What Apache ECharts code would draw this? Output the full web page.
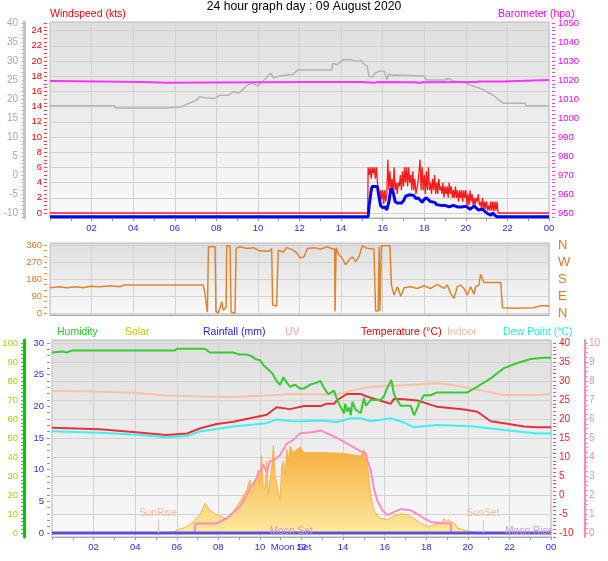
<!DOCTYPE html>
<html><head><meta charset="utf-8">
<script src="https://cdn.jsdelivr.net/npm/echarts@6/dist/echarts.min.js"></script>
<style>html,body{margin:0;padding:0;background:#fff}#c{width:608px;height:561px}</style>
</head><body><div id="c"></div>
<script>
// ---------- DATA (time in hours, 0..24) ----------
const hourTicks = [0,2,4,6,8,10,12,14,16,18,20,22,24];
// top panel: grey line on -10..40 scale
const greyLine = [[0,18.2],[3.1,18.2],[3.15,17.6],[5.6,17.6],[5.65,17.9],[6.3,17.9],[6.57,18.6],[7.05,19.7],[7.2,20.6],[7.45,20.3],[7.9,20.1],[8.18,21.0],[8.6,21.0],[8.8,21.9],[9.1,21.6],[9.25,22.4],[9.5,23.7],[9.75,24.2],[10.0,23.4],[10.3,25.0],[10.45,25.8],[10.6,26.8],[10.75,25.6],[11.06,26.05],[11.4,26.3],[11.7,26.5],[11.9,27.6],[13.55,27.6],[13.6,29.4],[13.8,29.0],[14.1,30.3],[14.45,30.4],[14.75,29.9],[14.95,30.2],[15.1,29.2],[15.25,28.7],[15.35,25.9],[15.5,25.8],[15.65,26.9],[15.9,27.4],[16.1,27.2],[16.2,25.0],[16.3,26.6],[16.45,26.2],[16.6,26.3],[18.0,26.05],[18.1,25.0],[19.0,25.0],[19.15,25.4],[19.35,24.8],[19.9,24.5],[20.2,23.7],[20.7,22.8],[21.3,21.05],[21.8,18.9],[22.85,18.9],[22.9,18.2],[24,18.2]];
const barometer = [[0,1019.5],[0.35,1019.5],[0.4,1019.0],[4.45,1019.0],[4.5,1018.5],[5.6,1018.5],[5.65,1019.1],[12.2,1019.0],[15.0,1018.9],[15.6,1018.6],[15.8,1018.9],[17.6,1018.8],[17.75,1018.4],[17.9,1018.8],[20.5,1018.9],[20.6,1019.2],[21.75,1019.2],[21.8,1020.0],[24,1020.0]];
const windGust = [[0,0],[15.28,0],[15.3,6],[15.35,5],[15.4,6],[15.45,4.5],[15.5,6],[15.55,5.2],[15.6,6],[15.65,4.5],[15.7,6],[15.75,4],[15.8,2.5],[15.85,1.5],[15.9,3],[15.95,1.8],[16.0,3],[16.05,1.2],[16.1,3],[16.15,1.5],[16.2,2.5],[16.25,7],[16.3,3],[16.35,5.5],[16.4,3],[16.45,4.5],[16.5,2.5],[16.55,6],[16.6,3],[16.65,4],[16.7,2.5],[16.75,4],[16.8,3.5],[16.85,5],[16.9,3],[16.95,5.5],[17.0,3.5],[17.05,6],[17.1,4],[17.15,6],[17.2,3.5],[17.25,6],[17.3,4],[17.35,5],[17.4,3],[17.45,5.5],[17.5,3],[17.55,4.5],[17.6,2.5],[17.7,4],[17.8,7],[17.85,3],[17.9,6],[17.95,3],[18.0,5],[18.05,2.5],[18.1,5.5],[18.15,3],[18.2,6],[18.25,3],[18.3,4],[18.35,2.5],[18.4,4.5],[18.45,3],[18.5,5],[18.55,2.5],[18.6,4],[18.65,2.5],[18.7,4.5],[18.75,3],[18.8,3.5],[18.85,2.5],[18.9,4],[18.95,2],[19.0,3.5],[19.05,2.5],[19.1,3.5],[19.15,2],[19.2,4],[19.25,2.5],[19.3,3.5],[19.35,2],[19.4,3],[19.45,2],[19.5,3.5],[19.55,2],[19.6,3],[19.65,1.5],[19.7,3],[19.75,2],[19.8,3],[19.85,1.5],[19.9,3],[19.95,2],[20.0,3],[20.05,1],[20.1,2.5],[20.15,1],[20.2,3],[20.25,1.5],[20.3,2.5],[20.35,1],[20.4,2],[20.45,1],[20.5,2],[20.55,1.5],[20.6,2.5],[20.65,1],[20.7,1.5],[20.75,0.5],[20.8,2],[20.85,0.5],[20.9,1.5],[20.95,0.5],[21.0,1.5],[21.05,0.3],[21.1,1],[21.15,0.3],[21.2,1.5],[21.25,0.3],[21.3,1.5],[21.35,0.2],[21.4,1.5],[21.45,0.3],[21.5,1.5],[21.55,0],[24,0]];
const windAvg = [[0,-0.5],[15.3,-0.5],[15.35,1],[15.45,3],[15.5,3.5],[15.75,3.5],[15.8,2.5],[15.9,1],[16.0,0.7],[16.1,0.8],[16.2,0.4],[16.3,1.5],[16.4,3.2],[16.5,2.8],[16.6,1.5],[16.7,1.3],[16.9,1.3],[17.0,1.6],[17.1,2.2],[17.3,2.4],[17.5,2.3],[17.6,1.9],[17.7,2.0],[17.8,1.7],[17.9,1.4],[18.0,1.8],[18.1,2.0],[18.3,1.5],[18.5,1.4],[18.6,1.1],[18.8,1.0],[19.0,1.0],[19.2,0.8],[19.4,1.0],[19.6,0.8],[19.8,0.8],[20.0,0.9],[20.2,0.5],[20.4,0.9],[20.6,0.4],[20.8,0.5],[21.0,0.0],[21.2,-0.3],[21.3,0.0],[21.4,-0.3],[21.5,-0.5],[24,-0.5]];
// middle panel: wind direction (degrees)
const windDir = [[0,134],[0.48,139],[0.8,134],[1.28,139],[1.6,134],[1.92,142],[2.4,139],[2.89,144],[3.37,139],[3.53,148],[7.37,148],[7.45,104],[7.57,4],[7.62,351],[7.94,351],[7.98,8],[8.1,0],[8.26,60],[8.34,14],[8.47,32],[8.5,356],[8.66,356],[8.71,4],[8.9,0],[8.95,342],[9.14,351],[9.46,342],[9.78,346],[10.1,328],[10.58,328],[10.66,342],[10.71,42],[10.9,37],[10.98,333],[11.22,323],[11.38,346],[11.62,337],[11.86,320],[12.02,292],[12.22,298],[12.38,342],[12.7,346],[13.02,339],[13.34,351],[13.58,339],[13.69,339],[13.71,8],[13.76,346],[13.9,307],[14.06,290],[14.22,255],[14.38,281],[14.54,298],[14.7,272],[14.86,298],[15.02,356],[15.18,346],[15.34,342],[15.58,339],[15.66,11],[15.78,11],[15.83,351],[15.87,11],[15.94,356],[16.35,356],[16.42,148],[16.55,95],[16.71,139],[16.87,89],[17.03,134],[17.35,139],[17.67,130],[17.99,144],[18.31,130],[18.63,151],[18.95,130],[19.11,148],[19.27,104],[19.43,77],[19.59,139],[19.75,148],[19.91,130],[20.07,95],[20.23,139],[20.39,99],[20.47,139],[20.63,148],[20.71,205],[20.87,162],[21.68,162],[21.76,28],[22.48,25],[23.28,28],[23.6,39],[23.93,39],[24,33]];
// bottom panel
const humidity = [[0,95],[0.5,95.5],[0.7,95],[0.95,96],[5.9,96],[6.0,97],[7.35,97],[7.6,95],[8.7,95],[9.0,94],[9.36,94],[9.6,93],[9.8,91.5],[10.0,91],[10.2,88],[10.4,86],[10.6,84],[10.8,80],[10.97,78],[11.13,82],[11.3,79],[11.45,77],[11.7,78],[11.93,76],[12.12,76],[12.4,78],[12.7,79],[12.92,80],[13.0,78],[13.1,76],[13.3,73],[13.56,75],[13.72,70],[13.9,66],[14.04,63],[14.1,68],[14.2,64],[14.3,66],[14.37,62],[14.45,69],[14.53,70],[14.6,65],[14.69,64],[14.85,63],[15.0,71],[15.1,67],[15.17,66],[15.33,70],[15.5,70],[15.8,70],[15.97,72],[16.15,77],[16.32,80.5],[16.45,73],[16.6,70],[16.77,67],[17.0,67],[17.25,67],[17.41,62],[17.5,64],[17.65,68],[17.89,72.5],[18.21,72.5],[18.53,74],[19.98,74],[20.46,77],[21.1,81.4],[21.74,86.8],[22.38,89.5],[23.02,91.6],[23.66,92.3],[24,92.3]];
const indoorTemp = [[0,27.4],[1.5,27.3],[3.9,26.9],[5.5,26.2],[7.1,25.9],[8.7,25.8],[10.3,26.2],[11.45,26.6],[12.12,26.5],[13.72,26.5],[14.53,27.6],[15.33,28.5],[16.93,28.9],[18.53,29.4],[19.34,28.9],[20.14,28.1],[20.94,27.2],[21.74,26.3],[23.34,26.3],[24,26.6]];
const temperature = [[0,17.7],[2.3,17.3],[3.9,16.6],[5.5,15.8],[6.5,16.2],[7.1,17.5],[7.92,18.7],[8.72,19.3],[10.33,21.1],[10.8,23.1],[11.45,22.6],[12.12,23.4],[12.92,23.4],[13.2,24],[13.56,24],[13.72,25],[14.2,26.6],[14.85,26.6],[15.0,26.2],[15.33,25.6],[15.81,24.8],[16.29,24],[16.45,25.3],[16.93,25.2],[17.57,24.9],[18.53,23.2],[19.82,22.5],[20.46,21.9],[21.1,19.4],[21.74,18.9],[22.7,18.0],[23.34,17.8],[24,17.8]];
const dewPoint = [[0,16.8],[2.3,16.4],[3.9,15.9],[5.5,15.2],[6.5,15.5],[7.1,16.7],[8.72,18.0],[10.33,18.9],[10.8,19.9],[11.45,19.5],[12.12,19.4],[12.9,19.6],[13.72,19.2],[14.37,20.2],[14.85,20.2],[14.93,20.6],[15.33,19.4],[16.29,20.2],[16.93,19.1],[17.41,17.8],[18.53,18.4],[20.14,18.1],[21.74,17.1],[23.34,16.2],[24,16.2]];
const uvIndex = [[0,0],[6.85,0],[6.9,0.5],[7.9,0.5],[8.4,0.77],[9.04,1.4],[9.52,2.3],[9.84,2.9],[10.16,3.6],[10.33,3.2],[10.49,3.8],[10.65,3.8],[10.97,4.1],[11.29,4.7],[11.61,4.9],[11.93,5.25],[12.5,5.3],[12.92,5.4],[13.72,5.0],[14.37,4.6],[14.85,4.3],[15.09,4.2],[15.17,3.8],[15.33,3.3],[15.49,2.3],[15.65,1.7],[15.89,1.2],[16.13,0.95],[16.45,1.1],[16.77,1.26],[17.25,1.2],[17.57,1.0],[17.89,0.77],[18.21,0.58],[18.86,0.5],[19.18,0.5],[19.2,0],[24,0]];
const solar = [[0,0],[5.2,0],[5.5,3],[5.83,7],[6.48,33],[6.8,60],[7.12,95],[7.36,156],[7.44,165],[7.6,120],[7.92,95],[8.4,77],[8.72,114],[9.04,165],[9.36,225],[9.52,279],[9.6,200],[9.68,190],[9.92,332],[10.0,250],[10.08,410],[10.16,250],[10.24,230],[10.33,380],[10.4,200],[10.49,190],[10.57,350],[10.65,463],[10.73,300],[10.81,260],[10.9,200],[10.97,180],[11.05,350],[11.13,380],[11.2,300],[11.29,442],[11.37,380],[11.45,458],[11.6,420],[11.77,440],[11.93,453],[12.12,423],[13.0,423],[14.0,420],[14.53,410],[14.85,405],[15.0,437],[15.09,400],[15.17,368],[15.33,191],[15.49,121],[15.65,90],[15.81,77],[16.13,70],[16.45,89],[16.77,102],[17.09,95],[17.41,77],[17.73,53],[18.05,33],[18.37,42],[18.7,53],[18.8,65],[18.86,77],[18.95,50],[19.05,72],[19.18,60],[19.34,53],[19.5,26],[19.82,16],[20.14,7],[20.46,3],[20.78,0],[24,0]];
const rainfall = [[0,0],[24,0]];
const sunRise = 5.1, sunSet = 20.73, moonSet = 11.5, moonRise = 22.95;
const dirLabels = ['N','E','S','W','N'];

// ---------- CHART ----------
const FONT = "'Liberation Sans', Arial, sans-serif";
function rng(a,b,s){const r=[];for(let v=a;v<=b+1e-9;v+=s)r.push(Math.round(v*1000)/1000);return r;}
const bg = new echarts.graphic.LinearGradient(0,0,0,1,[{offset:0,color:'#dedede'},{offset:0.55,color:'#eeeeee'},{offset:1,color:'#f9f9f9'}]);
const hh = v => v===0 ? '' : String(v%24).padStart(2,'0');
const plain = v => String(v);

function xAx(gi, labels){
  return {gridIndex:gi,type:'value',min:0,max:24,interval:2,
    axisLine:{onZero:false,lineStyle:{color:'#a8a8a8',width:1}},
    axisTick:{show:labels,length:3,lineStyle:{color:'#999'}},
    minorTick:{show:labels,splitNumber:2,length:3,lineStyle:{color:'#999'}},
    axisLabel:{show:labels,formatter:hh,color:'#2a2aff',fontSize:9.5,fontFamily:FONT,margin:5},
    splitLine:{show:true,lineStyle:{color:'#d2d2d2',width:1}}};
}
function yAx(o){
  const a = {type:'value',gridIndex:o.g,position:o.pos,offset:o.off,min:o.min,max:o.max,
    axisLine:{show:!!o.line,onZero:false,lineStyle:{color:o.line||'#000',width:o.lw||1}},
    axisTick:{show:!!o.ticks,customValues:o.ticks||o.split,length:o.tl||3,lineStyle:{color:o.tc||o.color}},
    axisLabel:{show:!!o.labels,customValues:o.labels,color:o.color,fontSize:o.fs||9.5,fontFamily:FONT,margin:o.margin||5,formatter:o.fmt||plain},
    splitLine:{show:!!o.split,lineStyle:{color:'#d2d2d2',width:1}}};
  if(o.hide){a.axisLabel.show=false;a.axisTick.show=false;a.axisLine.show=false;}
  return a;
}
const gridBase = {show:true,backgroundColor:bg,borderColor:'#b8b8b8',borderWidth:1,containLabel:false,outerBoundsMode:'none'};
const lineS = (name,data,xi,yi,color,w,extra) => Object.assign({name,type:'line',data,xAxisIndex:xi,yAxisIndex:yi,
  symbol:'none',showSymbol:false,silent:true,lineStyle:{color,width:w},itemStyle:{color}},extra||{});

const ttl = (text,left,top,color,size) => ({text,left,top,padding:0,textStyle:{color,fontSize:size||10.5,fontWeight:'normal',fontFamily:FONT}});

const option = {
  animation:false,
  backgroundColor:'#ffffff',
  title:[
    ttl('24 hour graph day : 09 August 2020','center',1,'#000',12.2),
    ttl('Windspeed (kts)',50,9,'#ff0000'),
    ttl('Barometer (hpa)',498,9,'#ff00ff'),
    ttl('Humidity',57,327,'#22cc22'),
    ttl('Solar',125,327,'#c8c000'),
    ttl('Rainfall (mm)',203,327,'#2222ee'),
    ttl('UV',285,327,'#ff99cc'),
    ttl('Temperature (°C)',361,327,'#ee0000'),
    ttl('Indoor',447,327,'#f4bca4'),
    ttl('Dew Point (°C)',503,327,'#22eeee')
  ],
  grid:[
    Object.assign({left:50,top:22,width:499,height:196},gridBase),
    Object.assign({left:50,top:243,width:499,height:72},gridBase),
    Object.assign({left:52,top:340,width:499,height:197},gridBase)
  ],
  xAxis:[xAx(0,true),xAx(1,false),xAx(2,true),
    {gridIndex:2,type:'value',min:0,max:24,position:'bottom',axisLine:{show:false,onZero:false},axisTick:{show:false},splitLine:{show:false},
     axisLabel:{customValues:[moonSet],formatter:()=>'Moon Set',color:'#2a2aff',fontSize:9.5,fontFamily:FONT,margin:5}}],
  yAxis:[
    yAx({g:0,pos:'left',off:26,min:-11.32,max:40.26,line:'#c4c4c4',lw:3,labels:rng(-10,40,5),ticks:rng(-11,40,1),color:'#a8a8a8',tc:'#c4c4c4',margin:6,fs:10}),
    yAx({g:0,pos:'left',off:3,min:-0.658,max:25.13,labels:rng(0,24,2),ticks:rng(0,25,0.5),color:'#ff0000',tc:'#ff4040',margin:5}),
    yAx({g:0,pos:'right',off:3,min:947.37,max:1050.53,labels:rng(950,1050,10),ticks:rng(948,1050,2),color:'#ff00ff',tc:'#ff40ff',margin:6}),
    yAx({g:1,pos:'left',off:3,min:-10.59,max:370.59,labels:[0,90,180,270,360],ticks:rng(0,360,30),color:'#e07820',tc:'#e89040',margin:5}),
    yAx({g:1,pos:'right',off:0,min:-10.59,max:370.59,labels:[0,90,180,270,360],color:'#e07820',fs:13,margin:9,fmt:v=>dirLabels[Math.round(v/90)]}),
    yAx({g:2,pos:'left',off:28,min:-2.105,max:101.58,line:'#00cc00',lw:3,labels:rng(0,100,10),ticks:rng(0,100,2),color:'#a0d800',tc:'#22cc22',margin:6}),
    yAx({g:2,pos:'left',off:2,min:-0.632,max:30.47,labels:rng(0,30,5),ticks:rng(0,30,1),color:'#3030ff',tc:'#8888ff',margin:6}),
    yAx({g:2,pos:'right',off:2,min:-11.05,max:40.79,labels:rng(-10,40,5),ticks:rng(-11,40,1),color:'#ff2020',tc:'#ff5050',margin:6,fs:10}),
    yAx({g:2,pos:'right',off:34,min:-0.21,max:10.158,line:'#ff88bb',lw:2,labels:rng(0,10,1),ticks:rng(0,10,0.25),color:'#ff88bb',tc:'#ff88bb',margin:4,fs:10}),
    yAx({g:2,pos:'left',off:0,min:-21,max:1015.8,split:rng(0,1000,100),hide:true}),
    yAx({g:0,pos:'left',off:0,min:-0.658,max:25.13,split:rng(0,24,2),hide:true}),
    yAx({g:1,pos:'left',off:0,min:-10.59,max:370.59,split:[0,90,180,270,360],hide:true})
  ],
  series:[
    lineS('grey',greyLine,0,0,'#b4b4b4',1.5),
    lineS('Barometer',barometer,0,2,'#ff33ff',2),
    lineS('Gust',windGust,0,1,'#ff1a1a',1.3),
    lineS('Wind',windAvg,0,1,'#0000ff',3),
    lineS('Direction',windDir,1,3,'#e0842c',1.5),
    lineS('Solar',solar,2,9,'#f7b548',1,{areaStyle:{color:new echarts.graphic.LinearGradient(0,0,0,1,[{offset:0,color:'#f6ad3c'},{offset:1,color:'#fde99e'}]),opacity:1}}),
    lineS('Indoor',indoorTemp,2,7,'#f8c0a6',2),
    lineS('Dew Point',dewPoint,2,7,'#3ef0f4',2),
    lineS('UV',uvIndex,2,8,'#ff8cc4',2),
    lineS('Temperature',temperature,2,7,'#e6303c',2),
    lineS('Humidity',humidity,2,5,'#33cc33',2),
    lineS('Rainfall',rainfall,2,6,'#5a50e0',3,{
      markLine:{silent:true,symbol:'none',animation:false,
        lineStyle:{color:'#f4c0aa',width:1,type:'solid'},
        label:{show:true,position:'end',color:'#f4b8a0',fontSize:10,fontFamily:FONT,distance:2},
        data:[
          [{coord:[sunRise,0],name:'SunRise'},{coord:[sunRise,2]}],
          [{coord:[sunSet,0],name:'SunSet'},{coord:[sunSet,2]}]
        ].map(d=>{d[0].label={formatter:d[0].name};return d;})},
      markPoint:{silent:true,animation:false,symbol:'circle',symbolSize:1,itemStyle:{color:'rgba(0,0,0,0)'},
        data:[
          {coord:[moonSet,0.35],label:{show:true,position:'inside',formatter:'Moon Set',color:'#c8a0c8',fontSize:10,fontFamily:FONT}},
          {coord:[moonRise,0.35],label:{show:true,position:'inside',formatter:'Moon Rise',color:'#c8a0c8',fontSize:10,fontFamily:FONT}}
        ]}
    })
  ]
};
const chart = echarts.init(document.getElementById('c'),null,{renderer:'canvas'});
chart.setOption(option);
</script></body></html>
